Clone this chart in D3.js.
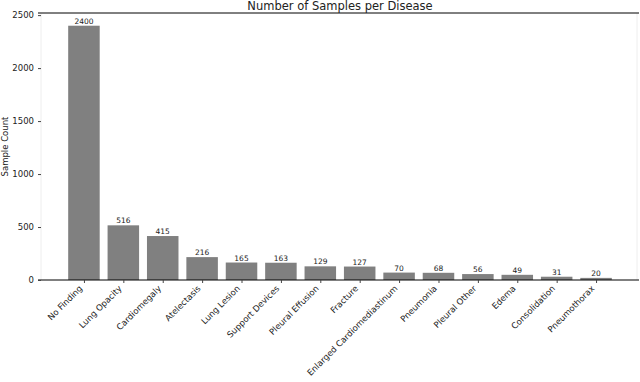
<!DOCTYPE html>
<html>
<head>
<meta charset="utf-8">
<script src="https://d3js.org/d3.v7.min.js"></script>
<style>
  body { margin: 0; background: #fff; }
  text { font-family: "DejaVu Sans", sans-serif; fill: #222; }
</style>
</head>
<body>
<div id="chart"></div>
<script>
const diseases = ["No Finding", "Lung Opacity", "Cardiomegaly", "Atelectasis", "Lung Lesion",
  "Support Devices", "Pleural Effusion", "Fracture", "Enlarged Cardiomediastinum", "Pneumonia",
  "Pleural Other", "Edema", "Consolidation", "Pneumothorax"];
const sampleCounts = [2400, 516, 415, 216, 165, 163, 129, 127, 70, 68, 56, 49, 31, 20];
const yTicks = [0, 500, 1000, 1500, 2000, 2500];

const W = 640, H = 382;
const box = { l: 41, r: 639, t: 13, b: 280 };

const svg = d3.select("#chart").append("svg")
  .attr("width", W).attr("height", H);

// matplotlib style x limits: bars +-0.4 with 5% margin
const n = diseases.length;
const span = (n - 1) + 0.8;
const x = d3.scaleLinear()
  .domain([-0.4 - 0.05 * span, (n - 1) + 0.4 + 0.05 * span])
  .range([box.l, box.r]);
const y = d3.scaleLinear()
  .domain([0, d3.max(sampleCounts) * 1.05])
  .range([box.b, box.t]);

const barW = x(0.8) - x(0);

// bars
svg.selectAll(".bar")
  .data(sampleCounts)
  .enter().append("rect")
  .attr("class", "bar")
  .attr("x", (d, i) => x(i - 0.4))
  .attr("y", d => y(d))
  .attr("width", barW)
  .attr("height", d => box.b - y(d))
  .attr("fill", "#808080");

// value labels
svg.selectAll(".val")
  .data(sampleCounts)
  .enter().append("text")
  .attr("class", "val")
  .attr("x", (d, i) => x(i))
  .attr("y", d => y(d) - 2)
  .attr("text-anchor", "middle")
  .attr("font-size", "7.5px")
  .text(d => d);

// spines
svg.append("line").attr("x1", box.l).attr("x2", box.l).attr("y1", box.t).attr("y2", box.b)
  .attr("stroke", "#eee").attr("stroke-width", 1);
svg.append("line").attr("x1", box.r - 2).attr("x2", box.r - 2).attr("y1", box.t).attr("y2", box.b)
  .attr("stroke", "#eee").attr("stroke-width", 1);
svg.append("line").attr("x1", box.l - 3).attr("x2", box.r).attr("y1", box.t).attr("y2", box.t)
  .attr("stroke", "#000").attr("stroke-width", 1);
svg.append("line").attr("x1", box.l - 3).attr("x2", box.r).attr("y1", box.b).attr("y2", box.b)
  .attr("stroke", "#000").attr("stroke-width", 1);

// y axis
const yAxis = svg.append("g")
  .attr("transform", `translate(${box.l},0)`)
  .call(d3.axisLeft(y).tickValues(yTicks).tickFormat(d3.format("d")).tickSize(3).tickPadding(4));
yAxis.select(".domain").remove();
yAxis.selectAll("text").attr("font-size", "8.5px").attr("font-family", "DejaVu Sans");
yAxis.selectAll("line").attr("stroke", "#444");

// x axis ticks
const xAxis = svg.append("g")
  .attr("transform", `translate(0,${box.b})`)
  .call(d3.axisBottom(x).tickValues(d3.range(n)).tickSize(3).tickFormat(""));
xAxis.select(".domain").remove();
xAxis.selectAll("line").attr("stroke", "#444");

// rotated category labels
svg.selectAll(".cat")
  .data(diseases)
  .enter().append("text")
  .attr("class", "cat")
  .attr("text-anchor", "end")
  .attr("font-size", "8.5px")
  .attr("transform", (d, i) => `translate(${x(i) - 1},${box.b + 9}) rotate(-45)`)
  .text(d => d);

// title
svg.append("text")
  .attr("x", (box.l + box.r) / 2)
  .attr("y", 10)
  .attr("text-anchor", "middle")
  .attr("font-size", "11.5px")
  .text("Number of Samples per Disease");

// y label
svg.append("text")
  .attr("transform", `translate(8,${(box.t + box.b) / 2}) rotate(-90)`)
  .attr("text-anchor", "middle")
  .attr("font-size", "8.5px")
  .text("Sample Count");
</script>
</body>
</html>
